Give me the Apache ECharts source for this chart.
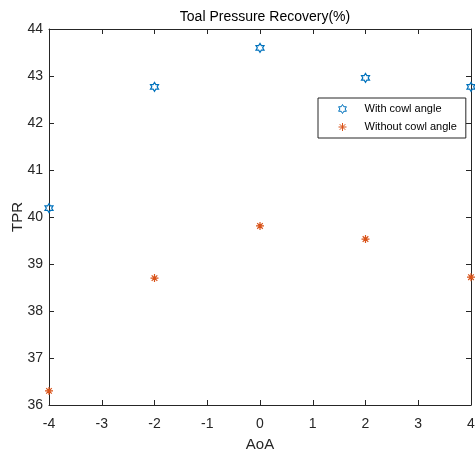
<!DOCTYPE html>
<html>
<head>
<meta charset="utf-8">
<script src="https://cdn.jsdelivr.net/npm/echarts@6/dist/echarts.min.js"></script>
<style>html,body{margin:0;padding:0;background:#fff;}#c{width:475px;height:451px;}</style>
</head>
<body>
<div id="c"></div>
<script>
const aoa = [-4, -2, 0, 2, 4];
const withCowl = [40.19, 42.77, 43.6, 42.96, 42.77];
const withoutCowl = [36.3, 38.7, 39.81, 39.53, 38.72];
const seriesNames = ['With cowl angle', 'Without cowl angle'];
const titleText = 'Toal Pressure Recovery(%)';
const xName = 'AoA';
const yName = 'TPR';

const hexagram = 'path://M0,-1 L0.289,-0.5 L0.866,-0.5 L0.577,0 L0.866,0.5 L0.289,0.5 L0,1 L-0.289,0.5 L-0.866,0.5 L-0.577,0 L-0.866,-0.5 L-0.289,-0.5 Z';
const asterisk = 'path://M0,-1L0,1M-1,0L1,0M-0.7,-0.7L0.7,0.7M-0.7,0.7L0.7,-0.7';

const font = 'Liberation Sans, Arial, sans-serif';
const axisColor = '#262626';
const blue = '#0072BD';
const orange = '#D95319';

const chart = echarts.init(document.getElementById('c'), null, {renderer: 'canvas'});
const baseX = {
  type: 'value', min: -4, max: 4, interval: 1,
  axisLine: {show: true, onZero: false, lineStyle: {color: axisColor, width: 1}},
  axisTick: {show: true, inside: true, length: 5, lineStyle: {color: axisColor}},
  splitLine: {show: false}
};
const baseY = {
  type: 'value', min: 36, max: 44, interval: 1,
  axisLine: {show: true, onZero: false, lineStyle: {color: axisColor, width: 1}},
  axisTick: {show: true, inside: true, length: 5, lineStyle: {color: axisColor}},
  splitLine: {show: false}
};
chart.setOption({
  animation: false,
  backgroundColor: '#fff',
  title: {
    text: titleText, left: 260, top: 5, textAlign: 'center',
    textStyle: {fontFamily: font, fontSize: 14, fontWeight: 'normal', color: '#000'}
  },
  grid: {left: 49, right: 4, top: 29, bottom: 46, containLabel: false, outerBoundsMode: 'none'},
  legend: {
    orient: 'vertical', left: 318, top: 98,
    padding: [4, 9, 4, 20],
    borderColor: '#262626', borderWidth: 1, backgroundColor: '#fff',
    itemWidth: 8, itemHeight: 9, itemGap: 4,
    textStyle: {fontFamily: font, fontSize: 11, color: '#000', lineHeight: 14, padding: [0, 0, 0, 13]},
    data: [
      {name: seriesNames[0], icon: hexagram, itemStyle: {color: 'transparent', borderColor: blue, borderWidth: 1}},
      {name: seriesNames[1], icon: asterisk, itemStyle: {color: orange, borderColor: orange, borderWidth: 1}}
    ]
  },
  xAxis: [
    Object.assign({}, baseX, {
      position: 'bottom', name: xName, nameLocation: 'middle', nameGap: 32, nameMoveOverlap: false,
      nameTextStyle: {fontFamily: font, fontSize: 15, color: axisColor},
      axisLabel: {fontFamily: font, fontSize: 14, color: axisColor, margin: 12}
    }),
    Object.assign({}, baseX, {position: 'top', axisLabel: {show: false}})
  ],
  yAxis: [
    Object.assign({}, baseY, {
      position: 'left', name: yName, nameLocation: 'middle', nameGap: 24, nameMoveOverlap: false,
      nameTextStyle: {fontFamily: font, fontSize: 15, color: axisColor},
      axisLabel: {fontFamily: font, fontSize: 14, color: axisColor, margin: 6}
    }),
    Object.assign({}, baseY, {position: 'right', axisLabel: {show: false}})
  ],
  series: [
    {
      name: seriesNames[0], type: 'scatter', clip: false,
      symbol: hexagram, symbolSize: [8, 9], symbolKeepAspect: false,
      itemStyle: {color: 'transparent', borderColor: blue, borderWidth: 1.2, opacity: 1},
      data: aoa.map((x, i) => [x, withCowl[i]]), z: 5
    },
    {
      name: seriesNames[1], type: 'scatter', clip: false,
      symbol: asterisk, symbolSize: 8,
      itemStyle: {color: orange, borderColor: orange, borderWidth: 1.2, opacity: 1},
      data: aoa.map((x, i) => [x, withoutCowl[i]]), z: 5
    }
  ]
});
</script>
</body>
</html>
